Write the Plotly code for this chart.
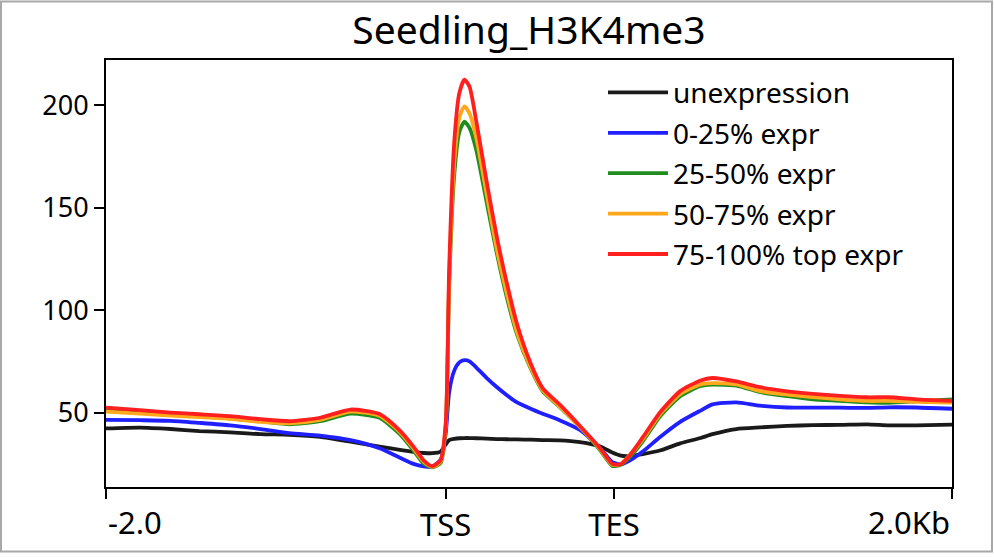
import plotly.graph_objects as go

# bin positions (10 bp bins; 200 upstream, ~99 body, 199 downstream)
bins = [0, 20, 38, 55, 73, 91, 108, 126, 144, 161, 173, 181, 187, 192, 197, 200,
        202, 205, 208, 211, 214, 218, 224, 230, 236, 242, 250, 257, 267, 279, 291,
        298, 303, 308, 316, 326, 338, 350, 357, 371, 385, 401, 416, 432, 448, 461,
        477, 498]

unexpression = [42.3, 42.7, 42.0, 41.0, 40.4, 39.5, 39.2, 38.2, 35.8, 33.4, 31.8, 30.8,
                30.3, 30.2, 31.0, 34.5, 36.6, 37.2, 37.5, 37.6, 37.6, 37.5, 37.3, 37.1,
                37.0, 36.9, 36.8, 36.6, 36.5, 35.6, 33.5, 30.5, 29.0, 28.8, 29.8, 31.5,
                35.0, 37.6, 39.5, 42.0, 42.8, 43.5, 43.9, 44.0, 44.3, 43.8, 43.8, 44.1]

expr_0_25 = [46.5, 46.3, 46.0, 45.0, 43.8, 42.0, 40.0, 38.8, 36.6, 32.6, 28.0, 25.0,
             23.8, 23.6, 27.0, 40.0, 60.0, 70.5, 74.5, 75.6, 75.0, 72.0, 67.0, 62.5,
             58.5, 55.0, 51.9, 49.5, 46.3, 41.5, 32.5, 25.8, 24.8, 26.5, 31.0, 38.0,
             45.5, 51.0, 54.0, 55.0, 53.4, 52.5, 52.4, 52.4, 52.3, 52.6, 52.5, 51.9]

expr_25_50 = [51.5, 50.5, 49.5, 48.2, 47.2, 45.8, 44.3, 45.8, 49.5, 47.5, 39.5, 31.5,
              25.0, 23.3, 25.5, 43.0, 112.0, 166.0, 187.0, 192.0, 189.0, 178.0, 153.0,
              128.0, 106.0, 88.0, 71.5, 60.5, 52.8, 43.0, 31.5, 24.0, 24.5, 28.0, 36.0,
              48.0, 58.0, 63.0, 63.7, 63.2, 60.0, 58.0, 56.5, 55.8, 55.0, 54.8, 55.5, 56.5]

expr_50_75 = [50.5, 49.5, 48.5, 47.8, 47.0, 45.5, 44.8, 46.5, 50.5, 48.5, 40.5, 32.5,
              26.0, 23.5, 26.0, 44.0, 115.0, 172.0, 194.0, 199.5, 196.0, 184.0, 157.0,
              130.0, 108.0, 89.0, 72.0, 61.0, 53.0, 43.0, 32.0, 24.5, 25.0, 29.0, 37.0,
              49.0, 59.0, 63.8, 64.4, 63.8, 60.5, 58.8, 57.6, 56.5, 55.7, 55.7, 55.3, 54.9]

expr_75_100 = [52.4, 51.2, 50.0, 49.2, 48.3, 46.8, 45.8, 47.5, 51.5, 49.3, 41.2, 33.4,
               26.7, 23.9, 26.8, 45.0, 120.0, 182.0, 206.0, 212.5, 209.0, 192.0, 163.0,
               136.0, 113.0, 93.0, 74.0, 62.0, 54.0, 43.5, 32.5, 25.0, 24.8, 28.8, 38.0,
               50.0, 60.5, 65.7, 66.9, 65.2, 62.4, 60.4, 59.2, 58.2, 57.5, 57.5, 56.5, 55.7]

series_names = ["unexpression", "0-25% expr", "25-50% expr", "50-75% expr",
                "75-100% top expr"]
series_values = [unexpression, expr_0_25, expr_25_50, expr_50_75, expr_75_100]
series_colors = ["#1a1a1a", "#1f1fff", "#1f8c1f", "#ffa81c", "#ff1f1f"]

tick_pos = [0, 200, 299, 498]
tick_text = ["-2.0", "TSS", "TES", "2.0Kb"]
y_ticks = [50, 100, 150, 200]

FONT = "Noto Sans"
XTICK_SIZE = 31
YTICK_SIZE = 27

fig = go.Figure()
for i, (name, vals, col) in enumerate(zip(series_names, series_values, series_colors)):
    fig.add_trace(go.Scatter(
        x=bins, y=vals, mode="lines", name=name,
        line=dict(color=col, width=3.8, shape="spline", smoothing=0.6),
        legendgroup=f"g{i}",
    ))

# end labels are aligned to the plot edges (first left-aligned, last right-aligned)
annotations = [
    dict(x=tick_pos[0], y=0, xref="x", yref="paper", text=tick_text[0],
         xanchor="left", yanchor="top", yshift=-12, showarrow=False,
         font=dict(size=XTICK_SIZE, family=FONT, color="black")),
    dict(x=tick_pos[-1], y=0, xref="x", yref="paper", text=tick_text[-1],
         xanchor="right", yanchor="top", yshift=-12, showarrow=False,
         font=dict(size=XTICK_SIZE, family=FONT, color="black")),
]

fig.update_layout(
    width=994, height=557,
    margin=dict(l=106, r=42, t=60, b=67),
    paper_bgcolor="white", plot_bgcolor="white",
    font=dict(family=FONT, color="black", size=YTICK_SIZE),
    title=dict(text="Seedling_H3K4me3", x=(106 + 952) / 2 / 994, xanchor="center",
               y=1 - 30 / 557, yanchor="middle", font=dict(size=39, family=FONT)),
    showlegend=True,
    legend=dict(x=(603 - 106) / 846, y=0.982, xanchor="left", yanchor="top",
                bgcolor="rgba(0,0,0,0)", font=dict(size=28, family=FONT),
                tracegroupgap=1, traceorder="grouped", itemwidth=60),
    xaxis=dict(range=[0, 498], tickvals=tick_pos,
               ticktext=["", tick_text[1], tick_text[2], ""],
               showline=True, linecolor="black", linewidth=2, mirror=True,
               ticks="outside", ticklen=10, tickwidth=2, tickcolor="black",
               showgrid=False, zeroline=False, tickfont=dict(size=XTICK_SIZE)),
    yaxis=dict(range=[13.7, 222.1], tickvals=y_ticks,
               showline=True, linecolor="black", linewidth=2, mirror=True,
               ticks="outside", ticklen=10, tickwidth=2, tickcolor="black",
               showgrid=False, zeroline=False, tickfont=dict(size=YTICK_SIZE)),
    annotations=annotations,
    shapes=[dict(type="rect", xref="paper", yref="paper",
                 x0=(1 - 106) / 846, x1=(992 - 106) / 846,
                 y0=(490 - 555) / 430, y1=(490 - 1) / 430,
                 line=dict(color="#a8a8a8", width=2), layer="below")],
)

fig.write_html(
    "out.html",
    config={"displayModeBar": False},
    post_script="document.body.style.margin='0';document.body.style.padding='0';",
)
